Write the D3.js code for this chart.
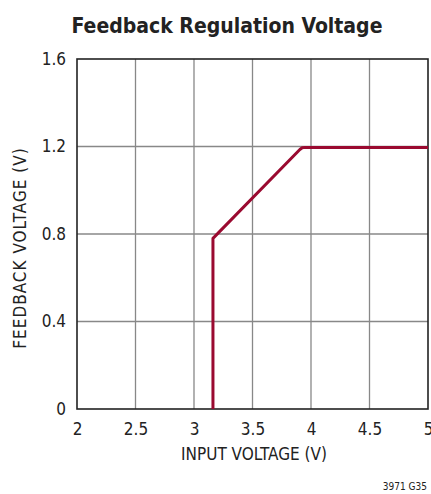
<!DOCTYPE html>
<html><head><meta charset="utf-8">
<script src="https://cdn.jsdelivr.net/npm/d3@7/dist/d3.min.js"></script>
<style>
body{margin:0;background:#fff;}
text{font-family:"Liberation Sans Narrow","DejaVu Sans Condensed","Roboto",sans-serif;fill:#222;}
</style></head><body>
<script>
const xTicks = [2, 2.5, 3, 3.5, 4, 4.5, 5];
const yTicks = [0, 0.4, 0.8, 1.2, 1.6];
const inputVoltage = [3.162, 3.162, 3.905, 3.925, 3.95, 5.0];
const feedbackVoltage = [0, 0.78, 1.186, 1.194, 1.196, 1.196];

const W = 431, H = 494;
const m = {left: 77, right: 3, top: 59, bottom: 85};
const svg = d3.select("body").append("svg").attr("width", W).attr("height", H);
const x = d3.scaleLinear().domain([2, 5]).range([m.left, W - m.right]);
const y = d3.scaleLinear().domain([0, 1.6]).range([H - m.bottom, m.top]);

// grid
svg.append("g").selectAll("line").data(xTicks.slice(1, -1)).join("line")
  .attr("x1", d => x(d)).attr("x2", d => x(d)).attr("y1", y(0)).attr("y2", y(1.6))
  .attr("stroke", "#888").attr("stroke-width", 1.3);
svg.append("g").selectAll("line").data(yTicks.slice(1, -1)).join("line")
  .attr("y1", d => y(d)).attr("y2", d => y(d)).attr("x1", x(2)).attr("x2", x(5))
  .attr("stroke", "#888").attr("stroke-width", 1.3);

// frame
svg.append("rect").attr("x", x(2)).attr("y", y(1.6)).attr("width", x(5) - x(2)).attr("height", y(0) - y(1.6))
  .attr("fill", "none").attr("stroke", "#222").attr("stroke-width", 1.6);

// axes labels
const xa = d3.axisBottom(x).tickValues(xTicks).tickSize(0).tickPadding(14).tickFormat(d3.format(""));
const gx = svg.append("g").attr("transform", `translate(0,${y(0)})`).call(xa);
gx.select(".domain").remove();
gx.selectAll("text").attr("font-size", 17).style("font-family", null).attr("fill", "#222");

const ya = d3.axisLeft(y).tickValues(yTicks).tickSize(0).tickPadding(11).tickFormat(d => d === 0 ? "0" : d3.format(".1f")(d));
const gy = svg.append("g").attr("transform", `translate(${x(2)},0)`).call(ya);
gy.select(".domain").remove();
gy.selectAll("text").attr("font-size", 17).style("font-family", null).attr("fill", "#222");

// line
const pts = inputVoltage.map((v, i) => [v, feedbackVoltage[i]]);
svg.append("path").datum(pts)
  .attr("d", d3.line().x(d => x(d[0])).y(d => y(d[1])))
  .attr("fill", "none").attr("stroke", "#9a0a30").attr("stroke-width", 3)
  .attr("stroke-linejoin", "round");

// titles
svg.append("text").attr("x", 227).attr("y", 33).attr("text-anchor", "middle")
  .attr("font-size", 21).attr("font-weight", "bold")
  .text("Feedback Regulation Voltage");
svg.append("text").attr("x", 254).attr("y", 460).attr("text-anchor", "middle")
  .attr("font-size", 17).text("INPUT VOLTAGE (V)");
svg.append("text").attr("transform", "translate(26,248) rotate(-90)").attr("text-anchor", "middle")
  .attr("font-size", 17).attr("letter-spacing", 1).text("FEEDBACK VOLTAGE (V)");
svg.append("text").attr("x", 427).attr("y", 490).attr("text-anchor", "end")
  .attr("font-size", 10).text("3971 G35");
</script>
</body></html>
